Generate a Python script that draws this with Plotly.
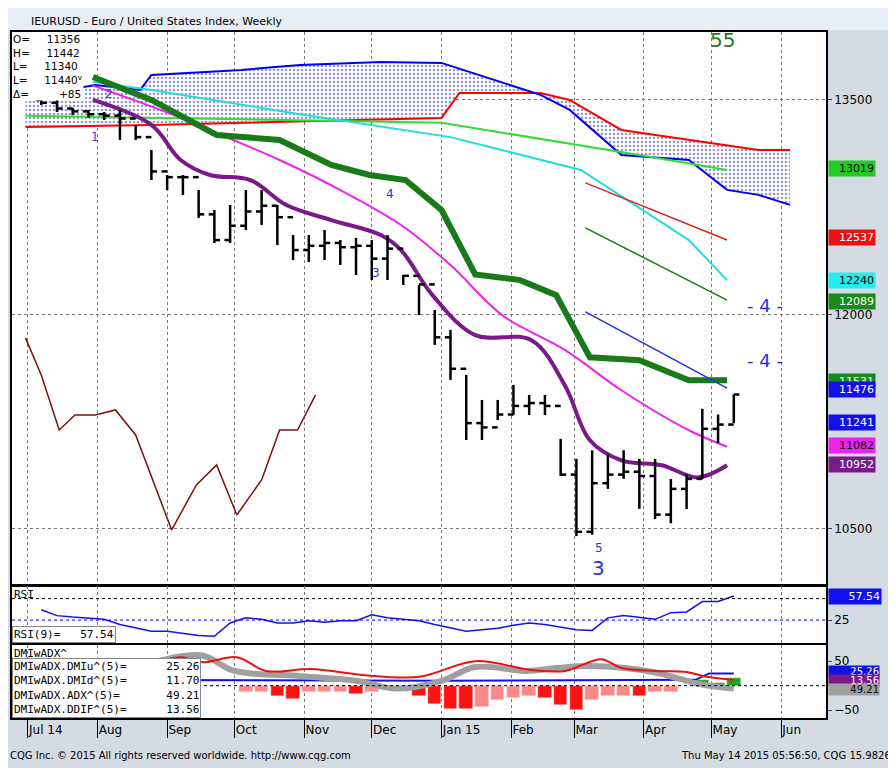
import plotly.graph_objects as go
import pandas as pd

weeks = pd.date_range("2014-07-07", periods=45, freq="7D")
high = [13500,13500,13444,13430,13416,13430,13325,13150,12975,12975,12870,12730,12765,12870,12870,12765,12555,12555,12590,12520,12535,12520,12555,12276,12206,12031,11892,11577,11402,11402,11507,11437,11437,11130,10990,11050,11020,11050,10990,10990,10850,10880,11340,11300,11442]
low = [13465,13416,13395,13374,13360,13220,13220,12940,12870,12836,12675,12500,12500,12590,12625,12485,12380,12367,12380,12346,12276,12241,12241,12206,11996,11787,11542,11122,11122,11262,11297,11297,11297,10870,10450,10460,10780,10850,10640,10570,10540,10640,10850,11100,11240]
close = [13480,13440,13420,13400,13390,13370,13240,13000,12960,12960,12700,12520,12620,12720,12760,12680,12450,12480,12500,12470,12480,12390,12460,12270,12210,11840,11620,11240,11210,11300,11360,11380,11360,10880,10480,10820,10880,10900,10870,10600,10780,10850,11200,11230,11440]
opn = [13500] + close[:-1]

rsi = [39,31,29,28,26,19,14,10,10,7,4,3,21,28,26,21,21,24,22,24,24,32,28,26,24,19,14,10,12,14,18,21,19,15,12,11,28,31,29,26,35,36,50,50,57.5]
ddif = [0]*13 + [-13,-13,-21,-28,-13,-13,-13,-16,-13,0,0,-21,-38,-48,-48,-44,-29,-25,-22,-25,-40,-50,-30,-22,-22,-22,-13,-13,0,12,6,15]
ddif_strong = [0]*13 + [0,0,1,1,0,0,0,1,0,0,0,1,1,1,1,0,0,0,0,1,1,1,0,0,0,1,0,0,0,0,0,0]

cloud_top_d = ["2014-06-30","2014-07-31","2014-08-20","2014-08-25","2014-10-04","2014-10-30","2014-12-05","2015-01-01","2015-02-14","2015-02-27","2015-03-22","2015-04-21","2015-05-08","2015-05-22","2015-06-05"]
cloud_top = [13521,13605,13570,13675,13710,13745,13766,13759,13535,13430,13115,13080,12871,12836,12766]
cloud_bot_d = ["2014-06-30","2014-08-25","2015-01-01","2015-01-09","2015-02-14","2015-02-27","2015-03-22","2015-04-21","2015-05-22","2015-06-05"]
cloud_bot = [13311,13325,13374,13549,13549,13500,13290,13220,13150,13150]

green_d = ["2014-07-30","2014-08-25","2014-09-23","2014-10-21","2014-11-13","2014-11-30","2014-12-16","2015-01-01","2015-01-16","2015-02-05","2015-02-21","2015-03-08","2015-03-30","2015-04-21","2015-05-08"]
green = [13660,13500,13255,13220,13045,12975,12940,12730,12280,12240,12135,11700,11680,11540,11540]
purple_d = ["2014-07-30","2014-08-25","2014-09-07","2014-09-20","2014-10-08","2014-10-24","2014-11-13","2014-12-05","2014-12-14","2014-12-28","2015-01-16","2015-02-10","2015-02-25","2015-03-08","2015-03-22","2015-04-09","2015-04-25","2015-05-08"]
purple = [13500,13325,13080,12975,12940,12765,12660,12555,12450,12135,11855,11820,11500,11120,10980,10945,10860,10945]
magenta_d = ["2014-07-30","2014-08-29","2014-09-25","2014-10-21","2014-11-17","2014-12-14","2015-01-05","2015-01-28","2015-02-25","2015-03-22","2015-04-21","2015-05-08"]
magenta = [13600,13430,13255,13080,12870,12625,12345,11995,11750,11470,11190,11075]
cyan_d = ["2014-07-30","2014-08-25","2014-10-30","2015-01-05","2015-03-04","2015-04-21","2015-05-08"]
cyan = [13625,13570,13400,13240,13010,12520,12240]
lgreen_d = ["2014-06-30","2015-01-01","2015-03-30","2015-05-08"]
lgreen = [13390,13340,13115,13010]
proj_d = ["2015-03-06","2015-05-08"]
proj_red = [12920,12520]
proj_dg = [12605,12100]
proj_blue = [12018,11485]
brown_d = ["2014-06-30","2014-07-07","2014-07-15","2014-07-22","2014-07-31","2014-08-09","2014-08-18","2014-09-03","2014-09-14","2014-09-23","2014-10-02","2014-10-13","2014-10-21","2014-10-29","2014-11-06"]
brown = [11836,11577,11192,11297,11297,11332,11157,10493,10808,10948,10598,10843,11192,11192,11437]

dmi_red_d = ["2014-08-25","2014-09-07","2014-09-17","2014-10-02","2014-10-15","2014-11-04","2014-11-27","2014-12-22","2015-01-16","2015-02-10","2015-02-25","2015-03-13","2015-03-22","2015-04-06","2015-04-20","2015-04-29","2015-05-11"]
dmi_red = [44,58,48,58,30,34,22,18,50,32,30,54,36,30,28,18,12]
dmi_blue_d = ["2014-07-07","2015-01-01","2015-04-24","2015-04-30","2015-05-11"]
dmi_blue = [12,10,12,25,25]
adx_d = ["2014-08-20","2014-09-16","2014-10-01","2014-10-29","2014-11-24","2014-12-12","2015-01-01","2015-01-16","2015-02-08","2015-02-21","2015-03-08","2015-04-05","2015-04-25","2015-05-11"]
adx = [40,62,30,20,10,-6,10,38,30,36,40,28,4,-6]

months = pd.date_range("2014-07-01", "2015-06-01", freq="MS")
mlabels = ["Jul 14","Aug","Sep","Oct","Nov","Dec","Jan 15","Feb","Mar","Apr","May","Jun"]

fig = go.Figure()
xr = ["2014-06-24", "2015-06-21"]
fig.add_trace(go.Scatter(x=cloud_bot_d, y=cloud_bot, mode="lines", line=dict(color="red", width=2)))
fig.add_trace(go.Scatter(x=cloud_top_d, y=cloud_top, mode="lines", line=dict(color="blue", width=2), fill="tonexty",
                         fillpattern=dict(shape=".", fgcolor="#333399", bgcolor="white", size=4, solidity=0.35)))
fig.add_trace(go.Scatter(x=lgreen_d, y=lgreen, mode="lines", line=dict(color="#33dd33", width=2)))
fig.add_trace(go.Scatter(x=cyan_d, y=cyan, mode="lines", line=dict(color="#22dddd", width=2)))
fig.add_trace(go.Scatter(x=magenta_d, y=magenta, mode="lines", line=dict(color="#ee22ee", width=2, shape="spline")))
fig.add_trace(go.Scatter(x=green_d, y=green, mode="lines", line=dict(color="#1a7a1a", width=6)))
fig.add_trace(go.Scatter(x=purple_d, y=purple, mode="lines", line=dict(color="#7a1a8a", width=4, shape="spline")))
for vals, col in [(proj_red, "#dd2222"), (proj_dg, "#1a7a1a"), (proj_blue, "#2233dd")]:
    fig.add_trace(go.Scatter(x=proj_d, y=vals, mode="lines", line=dict(color=col, width=1.5)))
fig.add_trace(go.Scatter(x=brown_d, y=brown, mode="lines", line=dict(color="#7a1010", width=1.5)))
# OHLC bars built as one scatter so they sit above the cloud fill
bx, by = [], []
tick = pd.Timedelta(days=2.5)
for d, o, h, l, c in zip(weeks, opn, high, low, close):
    bx += [d, d, None, d - tick, d, None, d, d + tick, None]
    by += [l, h, None, o, o, None, c, c, None]
fig.add_trace(go.Scatter(x=bx, y=by, mode="lines", line=dict(color="black", width=2.5)))
fig.add_trace(go.Scatter(x=weeks, y=rsi, mode="lines", line=dict(color="#1111ee", width=1.5), xaxis="x2", yaxis="y2"))
colors = [("#22a022" if v > 0 else ("#ff1111" if s else "#ff8888")) for v, s in zip(ddif, ddif_strong)]
fig.add_trace(go.Bar(x=weeks, y=ddif, marker_color=colors, width=6*86400000, xaxis="x3", yaxis="y3"))
fig.add_trace(go.Scatter(x=dmi_blue_d, y=dmi_blue, mode="lines", line=dict(color="#1111ee", width=2), xaxis="x3", yaxis="y3"))
fig.add_trace(go.Scatter(x=adx_d, y=adx, mode="lines", line=dict(color="#a0a0a0", width=6, shape="spline"), xaxis="x3", yaxis="y3"))
fig.add_trace(go.Scatter(x=dmi_red_d, y=dmi_red, mode="lines", line=dict(color="#ee1111", width=2, shape="spline"), xaxis="x3", yaxis="y3"))

ax = dict(type="date", range=xr, showgrid=True, gridcolor="#777", griddash="dot", gridwidth=1, automargin=False,
          tickvals=list(months), showticklabels=False, zeroline=False, showline=True, linecolor="black", mirror=True, linewidth=1.5)
yax = dict(side="right", automargin=False, zeroline=False, showline=True, linecolor="black", mirror=True, linewidth=1.5,
           tickformat="d", ticks="outside", ticklen=4, tickfont=dict(size=12))
fig.update_layout(
    width=888, height=760, showlegend=False, paper_bgcolor="#d4dbe3", plot_bgcolor="white",
    margin=dict(l=4, r=70, t=24, b=50), bargap=0,
    font=dict(family="DejaVu Sans", size=12, color="black"),
    xaxis=dict(ax, anchor="y"),
    xaxis2=dict(ax, anchor="y2", matches="x"),
    xaxis3=dict(ax, anchor="y3", matches="x", showticklabels=True, ticktext=mlabels, ticklabelposition="outside right",
                ticks="outside", ticklen=18, tickcolor="black"),
    yaxis=dict(yax, domain=[0.1939, 1], range=[10108, 13975], tickvals=[10500, 12000, 13500],
               showgrid=True, gridcolor="#777", griddash="dot"),
    yaxis2=dict(yax, domain=[0.1093, 0.1924], range=[-6, 71], tickvals=[25], showgrid=False),
    yaxis3=dict(yax, domain=[0, 0.1064], range=[-66, 83], tickvals=[50, -50], showgrid=False),
)
fig.add_shape(type="line", xref="x2 domain", yref="y2", x0=0, x1=1, y0=54, y1=54, line=dict(color="black", dash="dot", width=1))
fig.add_shape(type="line", xref="x2 domain", yref="y2", x0=0, x1=1, y0=25, y1=25, line=dict(color="blue", dash="dot", width=1))
fig.add_shape(type="line", xref="x3 domain", yref="y3", x0=0, x1=1, y0=0, y1=0, line=dict(color="black", dash="dot", width=1))
fig.add_shape(type="rect", xref="paper", yref="paper", x0=-0.005, x1=1.08, y0=1.003, y1=1.035, fillcolor="#e8eef5", line_width=0, layer="below")
fig.add_annotation(xref="paper", yref="paper", x=0.022, y=1.004, xanchor="left", yanchor="bottom", showarrow=False, borderpad=0,
                   text="IEURUSD - Euro / United States Index, Weekly", font=dict(size=11, family="DejaVu Sans"))
fig.add_annotation(xref="paper", yref="paper", x=-0.005, y=-0.055, xanchor="left", yanchor="middle", showarrow=False,
                   text="CQG Inc. © 2015 All rights reserved worldwide. http://www.cqg.com", font=dict(size=10))
fig.add_annotation(xref="paper", yref="paper", x=1.082, y=-0.055, xanchor="right", yanchor="middle", showarrow=False,
                   text="Thu May 14 2015 05:56:50, CQG 15.9826", font=dict(size=10))
fig.add_annotation(xref="paper", yref="paper", x=0, y=1, xanchor="left", yanchor="top", showarrow=False, align="left",
                   bgcolor="white", borderpad=0,
                   text="O=     11356<br>H=     11442<br>L=     11340<br>L=     11440<sup>v</sup><br>Δ=         +85",
                   font=dict(size=10.5, family="DejaVu Sans"))
fig.add_annotation(xref="paper", yref="paper", x=0, y=0.1924, xanchor="left", yanchor="top", showarrow=False, text="RSI", font=dict(size=11, family="DejaVu Sans Mono"))
fig.add_annotation(xref="paper", yref="paper", x=0, y=0.1093, xanchor="left", yanchor="bottom", showarrow=False, bgcolor="white",
                   bordercolor="#888", text="RSI(9)=   57.54", font=dict(size=11, family="DejaVu Sans Mono"))
fig.add_annotation(xref="paper", yref="paper", x=0, y=0.1064, xanchor="left", yanchor="top", showarrow=False, text="DMIwADX^", font=dict(size=11, family="DejaVu Sans Mono"))
fig.add_annotation(xref="paper", yref="paper", x=0, y=0.0, xanchor="left", yanchor="bottom", showarrow=False, bgcolor="white", align="left",
                   bordercolor="#888", text="DMIwADX.DMIu^(5)=      25.26<br>DMIwADX.DMId^(5)=      11.70<br>DMIwADX.ADX^(5)=       49.21<br>DMIwADX.DDIF^(5)=      13.56",
                   font=dict(size=11, family="DejaVu Sans Mono"))
for x, y, t, c, s in [("2015-05-06", 13920, "55", "#1a7a1a", 20), ("2015-05-25", 12060, "- 4 -", "#2233dd", 18),
                      ("2015-05-25", 11680, "- 4 -", "#2233dd", 18), ("2015-03-12", 10230, "3", "#2233dd", 20),
                      ("2015-03-12", 10370, "5", "#2233dd", 12), ("2014-12-09", 12840, "4", "#2233dd", 12),
                      ("2014-12-03", 12290, "3", "#2233dd", 12), ("2014-07-31", 13240, "1", "#6633cc", 12), ("2014-08-06", 13540, "2", "#6633cc", 12)]:
    fig.add_annotation(x=x, y=y, text=t, showarrow=False, font=dict(color=c, size=s), xref="x", yref="y")
for v, bg, fc in [(13019, "#22cc22", "black"), (12537, "#ee1111", "white"), (12240, "#22eeee", "black"), (12089, "#1a8a1a", "white"),
                  (11531, "#1a8a1a", "white"), (11476, "#1111ee", "white"), (11241, "#1111ee", "white"), (11082, "#ee22ee", "black"), (10952, "#7a1a8a", "white")]:
    fig.add_annotation(xref="paper", yref="y", x=1.003, y=v, xanchor="left", text=str(v), showarrow=False, bgcolor=bg,
                       font=dict(color=fc, size=11), width=44, align="right")
fig.add_annotation(xref="paper", yref="y2", x=1.003, y=57.5, xanchor="left", text="57.54", showarrow=False, bgcolor="#1111ee",
                   font=dict(color="white", size=11), width=50, align="right")
for v, bg, fc, t in [(28, "#1111ee", "white", "25.26"), (11, "#7a1a8a", "white", "13.56"), (-8, "#a0a0a0", "black", "49.21")]:
    fig.add_annotation(xref="paper", yref="y3", x=1.003, y=v, xanchor="left", text=t, showarrow=False, bgcolor=bg,
                       font=dict(color=fc, size=10), width=50, align="right", borderpad=0)
fig.write_html("out.html")
